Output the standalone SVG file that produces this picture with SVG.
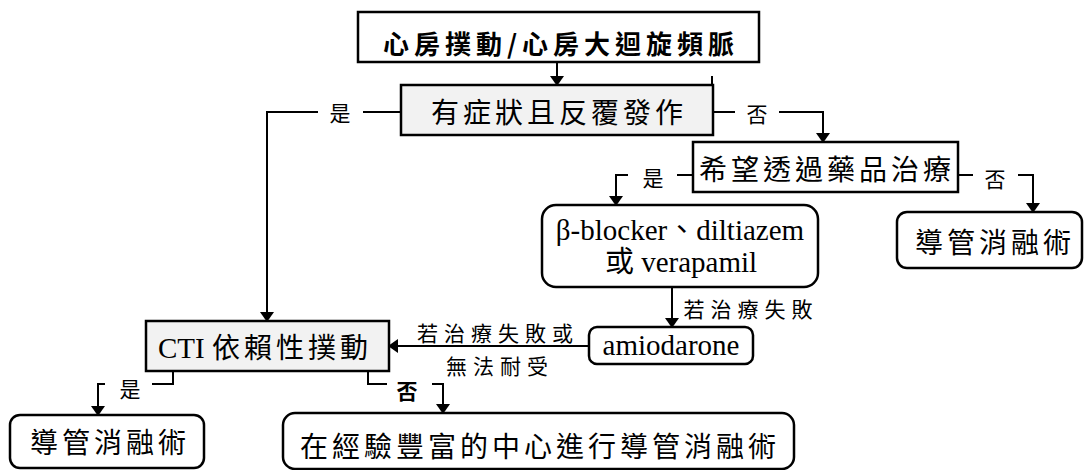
<svg xmlns="http://www.w3.org/2000/svg" width="1085" height="470" viewBox="0 0 1085 470">
<defs>
<style>
.box{fill:#ffffff;stroke:#000;stroke-width:2.5}
.gray{fill:#f2f2f2;stroke:#000;stroke-width:2.5}
.cjk{font-family:"Noto Sans CJK TC","Noto Sans CJK SC",sans-serif;font-size:28px;letter-spacing:4px;fill:#000}
.title{font-family:"Noto Sans CJK TC","Noto Sans CJK SC",sans-serif;font-size:26px;font-weight:bold;letter-spacing:5px;fill:#000}
.lat{font-family:"Liberation Serif","Noto Sans CJK TC",serif;font-size:29px;fill:#000}
.lbl{font-family:"Noto Sans CJK TC","Noto Sans CJK SC",sans-serif;font-size:21px;fill:#000}
.sm{font-family:"Noto Sans CJK TC","Noto Sans CJK SC",sans-serif;font-size:21px;letter-spacing:6px;fill:#000}
.ln{fill:none;stroke:#000;stroke-width:2}
</style>
<marker id="ah" viewBox="0 0 10 14" refX="9" refY="7" markerWidth="10" markerHeight="14" markerUnits="userSpaceOnUse" orient="auto">
<path d="M0,0 L10,7 L0,14 z" fill="#000"/>
</marker>
</defs>
<g id="connectors">
<path class="ln" d="M557,62 V85" marker-end="url(#ah)"/>
<path class="ln" d="M712,76 V85"/>
<path class="ln" d="M401,112 H363 M318,112 H267 V321" marker-end="url(#ah)"/>
<path class="ln" d="M713,112 H735 M779,112 H823 V142" marker-end="url(#ah)"/>
<path class="ln" d="M693,175 H677 M628,175 H616 V205" marker-end="url(#ah)"/>
<path class="ln" d="M958,175 H973 M1018,175 H1033 V212" marker-end="url(#ah)"/>
<path class="ln" d="M672,287 V327" marker-end="url(#ah)"/>
<path class="ln" d="M589,346 H389" marker-end="url(#ah)"/>
<path class="ln" d="M173,371 V384 H152 M105,384 H98 V415" marker-end="url(#ah)"/>
<path class="ln" d="M368,371 V384 H387 M432,384 H443 V413" marker-end="url(#ah)"/>
<text class="lbl" x="340" y="112" text-anchor="middle" dominant-baseline="central">是</text>
<text class="lbl" x="757" y="113" text-anchor="middle" dominant-baseline="central">否</text>
<text class="lbl" x="653" y="177" text-anchor="middle" dominant-baseline="central">是</text>
<text class="lbl" x="995" y="178" text-anchor="middle" dominant-baseline="central">否</text>
<text class="sm" x="751" y="308" text-anchor="middle" dominant-baseline="central">若治療失敗</text>
<text class="sm" x="498" y="332" text-anchor="middle" dominant-baseline="central">若治療失敗或</text>
<text class="sm" x="500" y="365" text-anchor="middle" dominant-baseline="central">無法耐受</text>
<text class="lbl" x="130" y="388" text-anchor="middle" dominant-baseline="central">是</text>
<text class="lbl" x="407" y="390" text-anchor="middle" dominant-baseline="central" font-weight="bold">否</text>
</g>
<g id="n_title">
<rect class="box" x="358" y="12" width="401" height="50"/>
<text class="title" x="561" y="42" text-anchor="middle" dominant-baseline="central">心房撲動/心房大迴旋頻脈</text>
</g>
<g id="n_symptom">
<rect class="gray" x="401" y="85" width="312" height="50" stroke-width="3"/>
<text class="cjk" x="559" y="111" text-anchor="middle" dominant-baseline="central">有症狀且反覆發作</text>
</g>
<g id="n_drug_wish">
<rect class="box" x="693" y="142" width="265" height="50"/>
<text class="cjk" x="827" y="168" text-anchor="middle" dominant-baseline="central">希望透過藥品治療</text>
</g>
<g id="n_ablation_right">
<rect class="box" x="897" y="212" width="185" height="56" rx="10"/>
<text class="cjk" x="995" y="241" text-anchor="middle" dominant-baseline="central">導管消融術</text>
</g>
<g id="n_beta">
<rect class="box" x="542" y="205" width="276" height="82" rx="14"/>
<text class="lat" x="680" y="240" text-anchor="middle">β-blocker、diltiazem</text>
<text class="lat" x="681" y="272" text-anchor="middle">或 verapamil</text>
</g>
<g id="n_amio">
<rect class="box" x="589" y="327" width="164" height="37" rx="8"/>
<text class="lat" x="671" y="355" text-anchor="middle">amiodarone</text>
</g>
<g id="n_cti">
<rect class="gray" x="146" y="321" width="243" height="50"/>
<text class="lat" x="158" y="358">CTI <tspan font-family="Noto Sans CJK TC, sans-serif" font-size="28" letter-spacing="4">依賴性撲動</tspan></text>
</g>
<g id="n_ablation_left">
<rect class="box" x="10" y="415" width="194" height="53" rx="10"/>
<text class="cjk" x="110" y="441" text-anchor="middle" dominant-baseline="central">導管消融術</text>
</g>
<g id="n_expert">
<rect class="box" x="283" y="413" width="511" height="56" rx="12" stroke-width="5"/>
<text class="cjk" x="540" y="445" text-anchor="middle" dominant-baseline="central">在經驗豐富的中心進行導管消融術</text>
</g>
</svg>
